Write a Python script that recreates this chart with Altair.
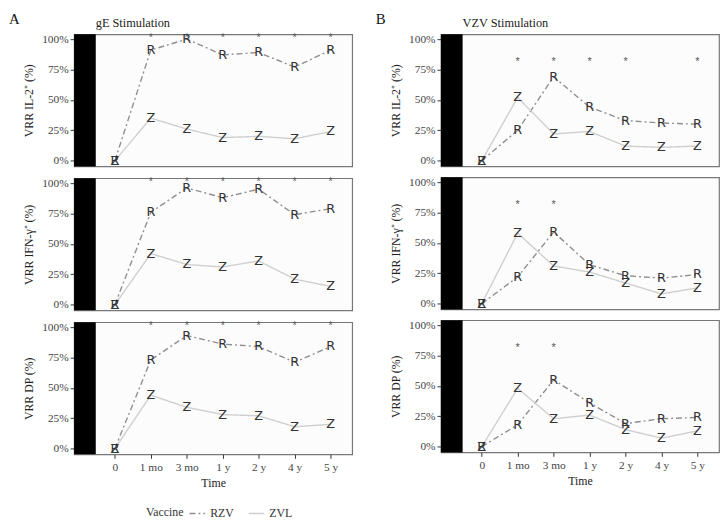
import altair as alt
import pandas as pd

time_labels = ["0", "1 mo", "3 mo", "1 y", "2 y", "4 y", "5 y"]
vaccines = ["RZV", "ZVL"]
marker_letters = ["R", "Z"]
stims = ["gE", "VZV"]
stim_titles = ["gE Stimulation", "VZV Stimulation"]
panel_letters = ["A", "B"]
measures = ["IL2", "IFN", "DP"]
measure_titles = ["VRR IL-2\u207a (%)", "VRR IFN-\u03b3\u207a (%)", "VRR DP (%)"]

ge_il2_rzv = [0, 91, 100, 87, 89, 77, 91]
ge_il2_zvl = [0, 35, 26, 19, 20, 18, 24]
ge_ifn_rzv = [0, 76, 96, 88, 95, 74, 79]
ge_ifn_zvl = [0, 42, 33, 31, 36, 21, 15]
ge_dp_rzv = [0, 73, 93, 86, 84, 71, 84]
ge_dp_zvl = [0, 44, 34, 28, 27, 18, 20]
vzv_il2_rzv = [0, 25, 69, 44, 33, 31, 30]
vzv_il2_zvl = [0, 52, 22, 24, 12, 11, 12]
vzv_ifn_rzv = [0, 22, 59, 32, 23, 21, 24]
vzv_ifn_zvl = [0, 58, 31, 26, 17, 8, 13]
vzv_dp_rzv = [0, 18, 55, 36, 19, 23, 24]
vzv_dp_zvl = [0, 48, 23, 26, 14, 7, 13]

ge_stars = ["1 mo", "3 mo", "1 y", "2 y", "4 y", "5 y"]
vzv_il2_stars = ["1 mo", "3 mo", "1 y", "2 y", "5 y"]
vzv_ifn_stars = ["1 mo", "3 mo"]
vzv_dp_stars = ["1 mo", "3 mo"]
star_levels = {"gE": 101, "VZV": 81}

series = {
    ("gE", "IL2"): (ge_il2_rzv, ge_il2_zvl, ge_stars),
    ("gE", "IFN"): (ge_ifn_rzv, ge_ifn_zvl, ge_stars),
    ("gE", "DP"): (ge_dp_rzv, ge_dp_zvl, ge_stars),
    ("VZV", "IL2"): (vzv_il2_rzv, vzv_il2_zvl, vzv_il2_stars),
    ("VZV", "IFN"): (vzv_ifn_rzv, vzv_ifn_zvl, vzv_ifn_stars),
    ("VZV", "DP"): (vzv_dp_rzv, vzv_dp_zvl, vzv_dp_stars),
}

W, H = 282, 134
SERIF = "Liberation Serif"
x_scale = alt.Scale(domain=[-1.135, 6.6], nice=False, zero=False)
y_scale = alt.Scale(domain=[-4.7, 104], nice=False, zero=False)
label_expr = "[" + ",".join("'%s'" % t for t in time_labels) + "][datum.value]"

legend = alt.Legend(
    orient="none", legendX=73, legendY=477, direction="horizontal",
    titleOrient="left", symbolType="stroke", symbolStrokeWidth=1.5,
    symbolSize=250, labelFont=SERIF, labelFontSize=12, titleFont=SERIF,
    titleFontSize=12, titleFontWeight="normal", labelColor="#333",
    titleColor="#333", columnPadding=12, title="Vaccine",
)
color = alt.Color("vaccine:N", scale=alt.Scale(domain=vaccines, range=["#8f8f8f", "#cfcfcf"]), legend=legend)
dash = alt.StrokeDash("vaccine:N", scale=alt.Scale(domain=vaccines, range=[[6, 3, 2, 3], [1, 0]]), legend=legend)


def panel(si, mi, show_x):
    stim, meas = stims[si], measures[mi]
    rzv, zvl, stars = series[(stim, meas)]
    rows = []
    for vac, letter, vals in [("RZV", "R", rzv), ("ZVL", "Z", zvl)]:
        for i, v in enumerate(vals):
            rows.append({"t": i, "v": v, "vaccine": vac, "letter": letter})
    d = pd.DataFrame(rows)
    sd = pd.DataFrame({"t": [time_labels.index(s) for s in stars],
                       "v": [star_levels[stim]] * len(stars), "s": ["*"] * len(stars)})
    if show_x:
        xa = alt.Axis(values=list(range(7)), labelExpr=label_expr, title="Time",
                      tickSize=4, labelPadding=3, titlePadding=5)
    else:
        xa = None
    x = alt.X("t:Q", scale=x_scale, axis=xa)
    y = alt.Y("v:Q", scale=y_scale, axis=alt.Axis(values=[0, 25, 50, 75, 100], labelExpr="datum.value + '%'",
                                                 labelOverlap=False, labelFlush=False,
                                                 title=measure_titles[mi], tickSize=4, titlePadding=6))
    bar = alt.Chart(pd.DataFrame({"k": [0]})).mark_rect(color="black").encode(
        x=alt.value(0), x2=alt.value(22), y=alt.value(0), y2=alt.value(H))
    lines = alt.Chart(d).mark_line(strokeWidth=1.4).encode(x=x, y=y, color=color, strokeDash=dash)
    letters = alt.Chart(d).mark_text(font="DejaVu Sans", fontSize=13, color="#333").encode(
        x=x, y=y, text="letter:N")
    star = alt.Chart(sd).mark_text(font="Liberation Sans", fontSize=11, color="#555").encode(
        x=x, y=y, text="s:N")
    layers = [bar, lines, letters, star]
    if mi == 0:
        lab = alt.Chart(pd.DataFrame({"lab": [panel_letters[si]]})).mark_text(
            font=SERIF, fontSize=15, color="#111", align="left", baseline="middle").encode(
            text="lab:N", x=alt.value(-66), y=alt.value(-15))
        ttl = alt.Chart(pd.DataFrame({"lab": [stim_titles[si]]})).mark_text(
            font=SERIF, fontSize=12.5, color="#222", align="left", baseline="middle").encode(
            text="lab:N", x=alt.value(22), y=alt.value(-11))
        layers += [lab, ttl]
    return alt.layer(*layers).properties(width=W, height=H)


cols = []
for si in range(2):
    cols.append(alt.vconcat(*[panel(si, mi, mi == 2) for mi in range(3)], spacing=7))

chart = alt.hconcat(*cols, spacing=22).properties(
    padding={"left": 0, "top": 0, "right": 0, "bottom": 0}
).configure_view(
    stroke="#777", strokeWidth=1.2, fill="#fcfcfc"
).configure_axis(
    labelFont=SERIF, labelFontSize=11.5, labelColor="#444", titleFont=SERIF, titleFontSize=12,
    titleFontWeight="normal", titleColor="#222", tickColor="#333", domain=False, grid=False
).configure_legend(
    labelFont=SERIF, titleFont=SERIF
)

chart.save("out.html", embed_options={"renderer": "svg", "actions": False})
